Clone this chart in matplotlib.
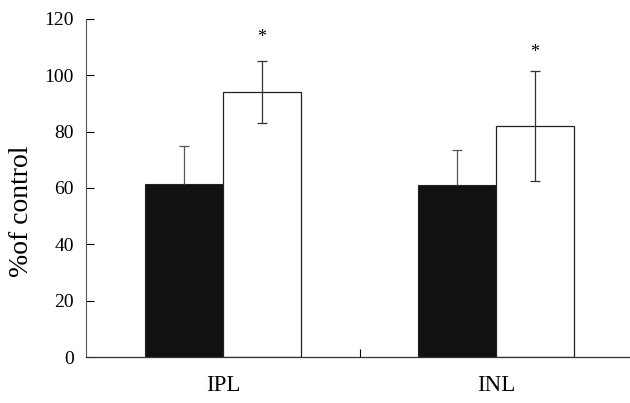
import matplotlib.pyplot as plt
import numpy as np

# bar data
regions = ['IPL', 'INL']
black_vals = [61.5, 61.0]
black_err = [13.5, 12.5]
white_vals = [94.0, 82.0]
white_err = [11.0, 19.5]
star_y = [113.5, 108.0]

plt.rcParams['font.family'] = ['Liberation Serif', 'DejaVu Serif']

fig = plt.figure(figsize=(6.3, 4.03), dpi=100)
ax = fig.add_axes([0.137, 0.114, 0.863, 0.839])

x = np.arange(len(regions))
w = 0.285

ax.bar(x - w / 2, black_vals, w, color='#111111', edgecolor='#222222', linewidth=0.8)
ax.bar(x + w / 2, white_vals, w, color='white', edgecolor='#222222', linewidth=0.9)

# black bars: upper error only
eb = ax.errorbar(x - w / 2, black_vals, yerr=[np.zeros(len(x)), black_err], fmt='none',
                 ecolor='#555555', elinewidth=0.9, capsize=3.5, capthick=0.9)
eb[1][0].set_visible(False)
ax.errorbar(x + w / 2, white_vals, yerr=white_err, fmt='none',
            ecolor='#333333', elinewidth=0.9, capsize=3.5, capthick=0.9)

for xi, sy in zip(x, star_y):
    ax.text(xi + w / 2, sy, '*', ha='center', va='center', fontsize=13)

ax.set_xlim(-0.5, 1.49)
ax.set_ylim(0, 120)
ax.set_yticks(range(0, 121, 20))
ax.set_xticks([0.5])
ax.set_xticklabels([''])
ax.tick_params(axis='y', direction='in', length=6, width=0.8, labelsize=14, pad=9)
ax.tick_params(axis='x', direction='in', length=6, width=0.8)

for xi, lab in zip(x, regions):
    ax.text(xi, -10, lab, ha='center', va='center', fontsize=16.5)

for s in ['top', 'right']:
    ax.spines[s].set_visible(False)
ax.spines['left'].set_color('#555555')
ax.spines['bottom'].set_color('#333333')
ax.spines['left'].set_linewidth(0.8)
ax.spines['bottom'].set_linewidth(0.9)

ax.set_ylabel('%of control', fontsize=20)
ax.yaxis.set_label_coords(-0.097, 0.43)

fig.savefig('out.png', dpi=100)
